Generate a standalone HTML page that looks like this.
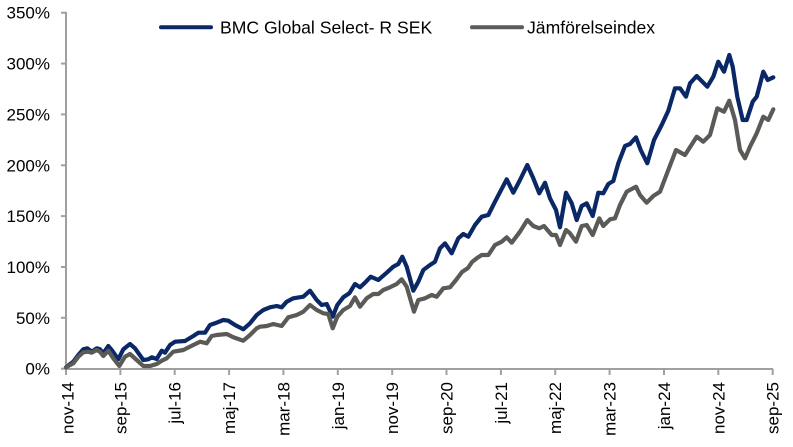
<!DOCTYPE html>
<html>
<head>
<meta charset="utf-8">
<style>
html,body{margin:0;padding:0;background:#fff;}
svg{display:block;}
text{font-family:"Liberation Sans",Arial,sans-serif;fill:#000;}
</style>
</head>
<body>
<svg width="793" height="447" viewBox="0 0 793 447" xmlns="http://www.w3.org/2000/svg">
<rect width="793" height="447" fill="#fff"/>
<!-- axes -->
<g stroke="#a0a0a0" stroke-width="2" fill="none">
<line x1="66" y1="12" x2="66" y2="369"/>
<line x1="65" y1="369" x2="773" y2="369"/>
<line x1="61" y1="12.7" x2="66" y2="12.7"/>
<line x1="61" y1="63.6" x2="66" y2="63.6"/>
<line x1="61" y1="114.4" x2="66" y2="114.4"/>
<line x1="61" y1="165.3" x2="66" y2="165.3"/>
<line x1="61" y1="216.1" x2="66" y2="216.1"/>
<line x1="61" y1="267" x2="66" y2="267"/>
<line x1="61" y1="317.8" x2="66" y2="317.8"/>
<line x1="61" y1="368.7" x2="66" y2="368.7"/>
<line x1="66" y1="369" x2="66" y2="375"/>
<line x1="120.4" y1="369" x2="120.4" y2="375"/>
<line x1="174.7" y1="369" x2="174.7" y2="375"/>
<line x1="229.1" y1="369" x2="229.1" y2="375"/>
<line x1="283.4" y1="369" x2="283.4" y2="375"/>
<line x1="337.8" y1="369" x2="337.8" y2="375"/>
<line x1="392.2" y1="369" x2="392.2" y2="375"/>
<line x1="446.5" y1="369" x2="446.5" y2="375"/>
<line x1="500.9" y1="369" x2="500.9" y2="375"/>
<line x1="555.2" y1="369" x2="555.2" y2="375"/>
<line x1="609.6" y1="369" x2="609.6" y2="375"/>
<line x1="664" y1="369" x2="664" y2="375"/>
<line x1="718.3" y1="369" x2="718.3" y2="375"/>
<line x1="772.7" y1="369" x2="772.7" y2="375"/>
</g>
<!-- y labels -->
<g font-size="17" text-anchor="end">
<text x="50" y="18.7">350%</text>
<text x="50" y="69.6">300%</text>
<text x="50" y="120.4">250%</text>
<text x="50" y="171.3">200%</text>
<text x="50" y="222.1">150%</text>
<text x="50" y="273">100%</text>
<text x="50" y="323.8">50%</text>
<text x="50" y="374.7">0%</text>
</g>
<!-- x labels -->
<g font-size="17" text-anchor="end">
<text transform="translate(73.5,382) rotate(-90)">nov-14</text>
<text transform="translate(126.4,382) rotate(-90)">sep-15</text>
<text transform="translate(180.7,382) rotate(-90)">jul-16</text>
<text transform="translate(235.1,382) rotate(-90)">maj-17</text>
<text transform="translate(289.4,382) rotate(-90)">mar-18</text>
<text transform="translate(343.8,382) rotate(-90)">jan-19</text>
<text transform="translate(398.2,382) rotate(-90)">nov-19</text>
<text transform="translate(452.5,382) rotate(-90)">sep-20</text>
<text transform="translate(506.9,382) rotate(-90)">jul-21</text>
<text transform="translate(561.2,382) rotate(-90)">maj-22</text>
<text transform="translate(615.6,382) rotate(-90)">mar-23</text>
<text transform="translate(670,382) rotate(-90)">jan-24</text>
<text transform="translate(724.3,382) rotate(-90)">nov-24</text>
<text transform="translate(778.7,382) rotate(-90)">sep-25</text>
</g>
<!-- legend -->
<line x1="161" y1="27.3" x2="211" y2="27.3" stroke="#0b2866" stroke-width="4" stroke-linecap="round"/>
<text x="220" y="33.5" font-size="17.6">BMC Global Select- R SEK</text>
<line x1="472" y1="27.3" x2="522" y2="27.3" stroke="#5a5a57" stroke-width="4" stroke-linecap="round"/>
<text x="527" y="33.5" font-size="17.6">Jämförelseindex</text>
<!-- series -->
<polyline fill="none" stroke="#0b2866" stroke-width="4.2" stroke-linejoin="round" stroke-linecap="round" points="66,367.3 73.3,361.7 78.3,355 83.3,349.3 87.3,348.3 91.7,351.7 96.7,348.3 100,349.3 103.3,353.3 108.3,346 111.7,350 118.3,359.3 123.3,349.3 130,344 135,348.3 143.3,360 148.3,359.3 151.7,357.3 156.7,359 161.7,350.7 165,352.7 170,345 175,341.7 185,341 193.3,336 198.3,332.7 205,332.7 210,325 215,323.3 223.3,320 228.3,320.7 235,325 243.3,329.3 250,323.3 256.7,315 263.3,310 270,307.3 276.7,306 281.7,307.3 286.7,301.7 293.3,298.3 303.3,296.7 310,290.7 316.7,300 321.7,305 326.7,304 332.7,316.7 337.3,305 343.3,297.3 349.3,293.3 355,284 360,287.3 365,282.7 370.7,276.7 378.3,280 386.7,272.7 393.3,266.7 398.3,264 402.3,256.7 406.7,266.7 413.3,290.7 418.3,281.7 423.3,270 430,265 435,261.7 440,248.3 445,243.3 451.7,253.3 458.3,238.3 463.3,234 468.3,236.7 475,225 481.7,216.7 488.3,215 495,201.7 506.7,179.3 513.3,192.7 520,180 527.3,165 533.3,178.3 539.3,193.3 545,182.7 550,198.3 556,210 560,227.3 566,192.7 571.7,203.3 576.7,220 581.7,206 586.7,203.3 592.7,216 598.3,192.7 603.3,193.3 608.3,184 613.3,181 618.3,163.3 625,146 630,144 636,137.3 640.7,150 647.3,163.3 654,140 661.7,125 668.3,110.7 675,88.3 680,88.3 686,96.7 690,83.3 696.7,76 707.3,86.7 713.3,76.7 718.3,61.7 724,71.7 729.3,55 732.7,66.7 737.3,96.7 742.7,120 746.7,120 752.7,101.7 756.7,96.7 763.3,71.7 767.7,80 773.3,77.3"/>
<polyline fill="none" stroke="#5a5a57" stroke-width="4.2" stroke-linejoin="round" stroke-linecap="round" points="66,367.3 73.3,363.3 78.3,356.7 83.3,352.3 88.3,351.7 91.7,352.7 96.7,350 100,351.7 103.3,356 108.3,350.7 113.3,358.3 119.3,366 125,356.7 130,354 136.7,360 143.3,366 150,366 156.7,364 161.7,360.7 166.7,358.3 173.3,351.7 183.3,350 193.3,345 200,341.7 206.7,343.3 211.7,336 216.7,335 226.7,334 233.3,337.3 243.3,340.7 250,335 256.7,328.3 260,326.7 266.7,326 273.3,324 281.7,326 288.3,317.3 296.7,315 303.3,311.7 310,305 316.7,310 323.3,313.3 328.3,314 332.7,328.3 337.3,316.7 343.3,310 350,306 355,297.3 360,306.7 366.7,298.3 373.3,294 378.3,294 383.3,290 390,287.3 396.7,284 401.7,279.3 406.7,286.7 414,311.7 418.3,300 425,298.3 431.7,295 436.7,296.7 443.3,288.3 450,287.3 456,280 462,272 468,268 472,262 476.7,258.3 481.7,255 488.3,255 495,245 501.7,241.7 506.7,237.3 511.7,242.7 520,231.7 527.3,220 533.3,226 539.3,228.3 544,226 551.7,235 556,235 560,245 566,230 570,233.3 576,241.7 581.7,226 586.7,225 592.7,235 599.3,218.3 603.3,226 610,219.3 615,218.3 620,205 626.7,191.7 636,186.7 640,195 646.7,202.7 653.3,196 660,191.7 668.3,170 676,150 685,155 696.7,136.7 703.3,141.7 710,135 717.3,108.3 724,111.7 729.3,100.7 735,120 740,150 745,158.3 750,146.7 756.7,133.3 763.3,116.7 768.3,120 773.3,109.3"/>
</svg>
</body>
</html>
